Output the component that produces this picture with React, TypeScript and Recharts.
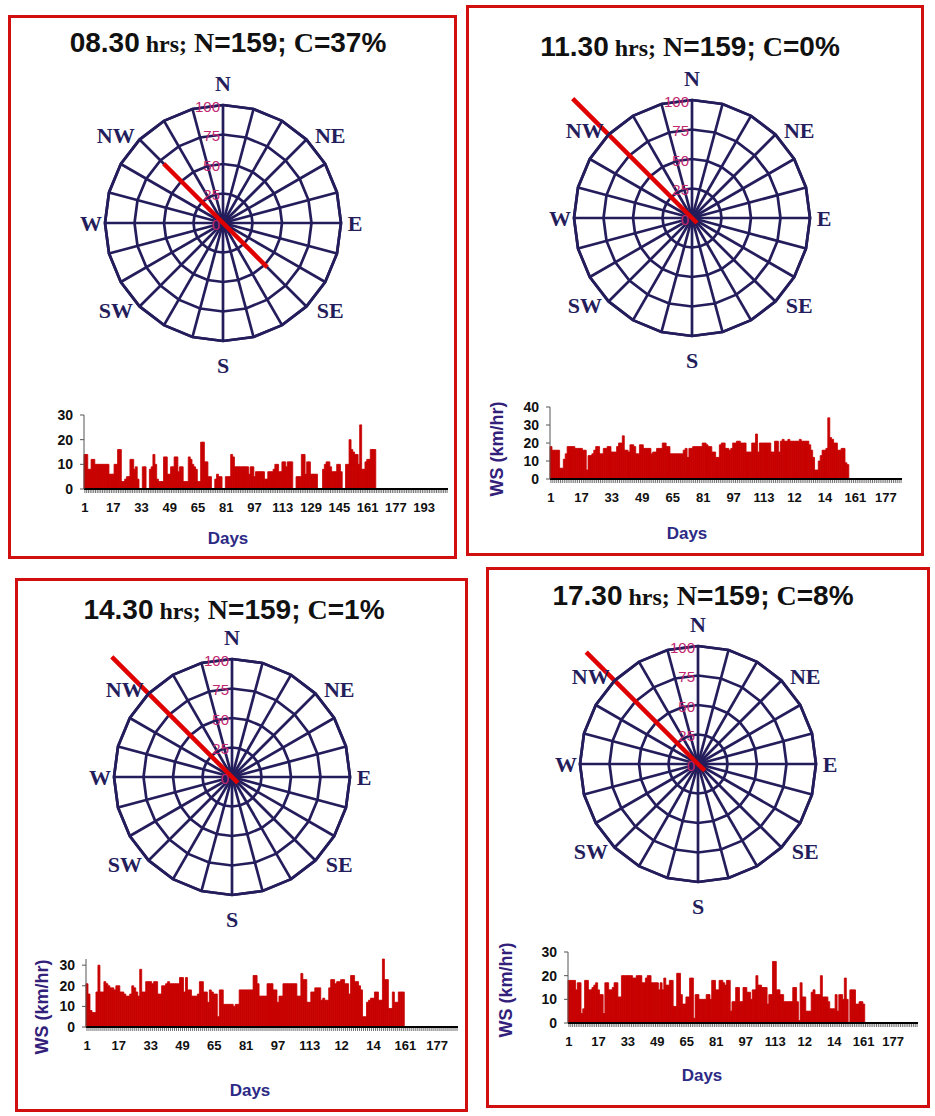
import React from 'react';
import {
  RadarChart,
  Radar,
  PolarGrid,
  PolarAngleAxis,
  PolarRadiusAxis,
  BarChart,
  Bar,
  XAxis,
  YAxis,
} from 'recharts';

// ---- data ----
const hours = ['08.30', '11.30', '14.30', '17.30'];
const sampleSize = [159, 159, 159, 159];
const calmPct = [37, 0, 1, 8];

// 24 direction sectors, 15 degrees apart, clockwise from north
const compassDegrees = [0, 15, 30, 45, 60, 75, 90, 105, 120, 135, 150, 165, 180, 195, 210, 225, 240, 255, 270, 285, 300, 315, 330, 345];
const compassLabels = ['N', 'NE', 'E', 'SE', 'S', 'SW', 'W', 'NW'];

// direction frequency (%) per sector
const dir0830 = [0, 0, 0, 0, 0, 0, 0, 0, 0, 53, 0, 0, 0, 0, 0, 0, 0, 0, 0, 0, 0, 71, 0, 0];
const dir1130 = [0, 0, 0, 0, 0, 0, 0, 0, 0, 6, 0, 0, 0, 0, 0, 0, 0, 0, 0, 0, 0, 143, 0, 0];
const dir1430 = [0, 0, 0, 0, 0, 0, 0, 0, 0, 7, 0, 0, 0, 0, 0, 0, 0, 0, 0, 0, 0, 144, 0, 0];
const dir1730 = [0, 0, 0, 0, 0, 0, 0, 0, 0, 8, 0, 0, 0, 0, 0, 0, 0, 0, 0, 0, 0, 134, 0, 0];

// daily wind speed (km/hr)
const ws0830 = [
  14, 14, 8, 8, 12, 12, 10, 10, 10, 10, 10, 10, 10, 10, 6, 6, 6, 10, 10, 16,
  16, 3, 3, 4, 5, 5, 12, 12, 8, 9, 4, 0, 0, 9, 9, 0, 0, 8, 9, 14,
  10, 4, 3, 3, 3, 13, 13, 6, 6, 9, 9, 13, 13, 7, 9, 9, 3, 3, 3, 13,
  12, 10, 9, 8, 3, 3, 19, 19, 11, 11, 5, 5, 0, 0, 4, 6, 5, 5, 0, 0,
  5, 5, 5, 14, 13, 9, 9, 9, 9, 9, 9, 9, 9, 6, 9, 9, 5, 7, 7, 7,
  7, 7, 4, 4, 7, 7, 7, 8, 10, 10, 7, 7, 11, 11, 9, 11, 11, 11, 0, 0,
  5, 5, 5, 14, 14, 6, 11, 11, 6, 6, 6, 6, 0, 0, 0, 8, 10, 11, 11, 9,
  7, 7, 7, 10, 10, 7, 0, 0, 10, 10, 20, 16, 15, 14, 14, 10, 26, 8, 8, 11,
  12, 12, 16, 16, 16,
];
const ws1130 = [
  18, 16, 16, 16, 16, 6, 6, 11, 14, 18, 18, 18, 18, 17, 17, 17, 17, 16, 16, 5,
  13, 13, 14, 16, 18, 18, 14, 14, 17, 17, 18, 18, 15, 15, 15, 18, 20, 20, 24, 16,
  16, 15, 19, 19, 18, 14, 14, 19, 19, 17, 17, 17, 17, 14, 15, 15, 17, 17, 17, 20,
  20, 18, 18, 14, 14, 14, 14, 14, 14, 14, 16, 17, 12, 17, 17, 18, 18, 18, 18, 18,
  20, 20, 19, 18, 18, 15, 15, 12, 12, 19, 20, 20, 17, 17, 16, 17, 20, 20, 21, 21,
  20, 20, 20, 15, 15, 15, 20, 20, 25, 15, 20, 20, 20, 20, 20, 20, 15, 15, 21, 21,
  15, 21, 22, 21, 21, 22, 21, 21, 21, 21, 21, 22, 21, 21, 21, 21, 19, 16, 12, 5,
  5, 10, 13, 16, 16, 17, 34, 23, 22, 20, 20, 16, 16, 17, 17, 9, 8,
];
const ws1430 = [
  21, 16, 8, 7, 7, 17, 30, 17, 17, 22, 21, 20, 19, 19, 18, 20, 20, 17, 17, 16,
  15, 15, 16, 20, 19, 17, 15, 28, 17, 17, 22, 22, 22, 21, 22, 22, 16, 16, 20, 20,
  21, 22, 21, 21, 21, 21, 21, 24, 24, 17, 24, 18, 18, 15, 15, 15, 16, 22, 22, 17,
  17, 12, 18, 17, 16, 16, 5, 18, 18, 11, 11, 11, 11, 11, 10, 11, 11, 18, 18, 18,
  18, 18, 18, 18, 25, 25, 21, 15, 15, 15, 15, 21, 21, 21, 18, 18, 12, 15, 15, 21,
  21, 21, 21, 21, 21, 21, 15, 15, 26, 23, 23, 12, 12, 17, 17, 19, 19, 19, 13, 14,
  13, 13, 19, 23, 23, 21, 22, 22, 23, 23, 21, 21, 16, 25, 25, 22, 22, 20, 18, 5,
  5, 12, 13, 14, 14, 17, 17, 13, 13, 33, 23, 23, 9, 9, 17, 12, 12, 17, 17, 17,
];
const ws1730 = [
  18, 18, 18, 18, 14, 17, 17, 4, 6, 18, 18, 14, 14, 15, 16, 17, 14, 12, 12, 4,
  17, 17, 14, 14, 15, 17, 17, 11, 11, 20, 20, 20, 20, 20, 20, 19, 19, 20, 20, 20,
  17, 17, 19, 20, 20, 17, 17, 17, 17, 14, 17, 14, 19, 16, 16, 18, 18, 7, 7, 21,
  21, 12, 8, 8, 11, 11, 19, 19, 2, 12, 12, 10, 10, 10, 10, 12, 12, 10, 18, 18,
  14, 14, 18, 18, 17, 16, 18, 18, 5, 9, 9, 15, 15, 9, 9, 15, 15, 13, 13, 10,
  14, 14, 20, 16, 16, 15, 15, 15, 8, 12, 12, 26, 26, 14, 14, 12, 12, 9, 9, 9,
  9, 9, 15, 15, 9, 1, 17, 11, 11, 5, 5, 5, 13, 14, 12, 12, 12, 20, 11, 11,
  11, 9, 6, 6, 6, 12, 5, 12, 12, 10, 19, 10, 0, 14, 14, 14, 8, 8, 9, 9,
  8,
];

// number of day categories on each day axis
const dayAxisLength = [206, 185, 187, 190];

// day-axis tick labels (one every 16 days)
const dayLabels0830 = ['1', '17', '33', '49', '65', '81', '97', '113', '129', '145', '161', '177', '193'];
const dayLabelsLater = ['1', '17', '33', '49', '65', '81', '97', '113', '12', '14', '161', '177'];

const wsTicks30 = [0, 10, 20, 30];
const wsTicks40 = [0, 10, 20, 30, 40];

// ---- styles ----
const SANS = '"Liberation Sans", Arial, Helvetica, sans-serif';
const SERIF = '"Liberation Serif", "Times New Roman", Times, serif';
const NAVY = '#241d5c';
const BAR_RED = '#c80000';
const LINE_RED = '#e10000';
const FRAME_RED = '#d20f0f';
const AXIS_TITLE = '#33207a';
const RADIUS_PINK = '#c2266e';

type Panel = {
  hour: string;
  n: number;
  calm: number;
  freq: number[];
  ws: number[];
  axisLen: number;
  labels: string[];
  yMax: number;
  yTicks: number[];
  box: [number, number, number, number];
  title: [number, number];
  rose: [number, number];
  plot: [number, number, number, number];
  wsLabel: [number, number, number] | null;
  days: [number, number];
};

const panels: Panel[] = [
  {
    hour: hours[0], n: sampleSize[0], calm: calmPct[0], freq: dir0830, ws: ws0830,
    axisLen: dayAxisLength[0], labels: dayLabels0830, yMax: 30, yTicks: wsTicks30,
    box: [8, 15, 457, 559], title: [228, 53], rose: [223, 223],
    plot: [84, 448, 415, 489], wsLabel: null, days: [228, 538],
  },
  {
    hour: hours[1], n: sampleSize[1], calm: calmPct[1], freq: dir1130, ws: ws1130,
    axisLen: dayAxisLength[1], labels: dayLabelsLater, yMax: 40, yTicks: wsTicks40,
    box: [466, 5, 924, 556], title: [690, 57], rose: [692, 218],
    plot: [550, 902, 407, 479], wsLabel: [497, 449, 18], days: [687, 533],
  },
  {
    hour: hours[2], n: sampleSize[2], calm: calmPct[2], freq: dir1430, ws: ws1430,
    axisLen: dayAxisLength[2], labels: dayLabelsLater, yMax: 30, yTicks: wsTicks30,
    box: [15, 578, 468, 1112], title: [234, 620], rose: [232, 777],
    plot: [86, 458, 959, 1027], wsLabel: [42, 1007, 18], days: [250, 1090],
  },
  {
    hour: hours[3], n: sampleSize[3], calm: calmPct[3], freq: dir1730, ws: ws1730,
    axisLen: dayAxisLength[3], labels: dayLabelsLater, yMax: 30, yTicks: wsTicks30,
    box: [486, 567, 930, 1108], title: [703, 606], rose: [698, 764],
    plot: [568, 918, 952, 1023], wsLabel: [506, 990, 18], days: [702, 1075],
  },
];

// ---- wind rose ----
function WindRose({ freq, cx, cy }: { freq: number[]; cx: number; cy: number }) {
  const size = 380;
  const c = size / 2;
  const data = compassDegrees.map((d, i) => ({ dir: d, f: freq[i] }));

  const angleTick = (props: any) => {
    const value = props?.payload?.value;
    const idx = compassDegrees.indexOf(value);
    if (idx < 0 || idx % 3 !== 0) return <g />;
    const a = (value * Math.PI) / 180;
    const s = Math.sin(a);
    const co = Math.cos(a);
    const x = c + 132 * Math.sign(s) * Math.pow(Math.abs(s), 0.6);
    const y = c - 142 * Math.sign(co) * Math.pow(Math.abs(co), 1.4) + (idx === 0 ? 2 : 0);
    return (
      <text
        x={x}
        y={y}
        textAnchor="middle"
        dominantBaseline="central"
        fontFamily={SERIF}
        fontWeight="bold"
        fontSize={22}
        fill={NAVY}
      >
        {compassLabels[idx / 3]}
      </text>
    );
  };

  const radiusTick = (props: any) => {
    const { x, y, payload } = props;
    return (
      <text
        x={x - 3}
        y={y + 1}
        textAnchor="end"
        dominantBaseline="central"
        fontFamily={SANS}
        fontSize={15}
        fill={RADIUS_PINK}
      >
        {payload.value}
      </text>
    );
  };

  return (
    <div style={{ position: 'absolute', left: cx - c, top: cy - c, width: size, height: size }}>
      <RadarChart
        width={size}
        height={size}
        cx={c}
        cy={c}
        outerRadius={118}
        data={data}
        margin={{ top: 0, right: 0, bottom: 0, left: 0 }}
      >
        <PolarGrid gridType="polygon" stroke={NAVY} strokeWidth={2.7} />
        <PolarAngleAxis
          dataKey="dir"
          tick={angleTick}
          tickLine={false}
          axisLine={{ stroke: NAVY, strokeWidth: 2.7 }}
        />
        <PolarRadiusAxis
          angle={90}
          orientation="left"
          domain={[0, 100]}
          allowDataOverflow
          tickCount={5}
          axisLine={false}
          tickLine={false}
          tick={radiusTick}
        />
        <Radar
          dataKey="f"
          stroke={LINE_RED}
          strokeWidth={4.5}
          fill="none"
          fillOpacity={0}
          dot={false}
          isAnimationActive={false}
        />
      </RadarChart>
    </div>
  );
}

// ---- daily wind speed bars ----
function SpeedBars({ p }: { p: Panel }) {
  const [pl, pr, pt, zy] = p.plot;
  const yAxisW = 60;
  const top = 10;
  const right = 4;
  const xAxisH = 30;
  const width = yAxisW + (pr - pl) + right;
  const height = top + (zy - pt) + xAxisH;
  const data = Array.from({ length: p.axisLen }, (_, i) => ({
    day: i + 1,
    ws: i < p.ws.length ? p.ws[i] : null,
  }));

  const xTick = (props: any) => {
    const { x, y, payload } = props;
    const idx = payload.value - 1;
    const label = idx % 16 === 0 ? p.labels[idx / 16] : undefined;
    return (
      <g>
        <line x1={x} x2={x} y1={y + 1} y2={y + 4} stroke="#333" strokeWidth={0.7} />
        {label !== undefined && (
          <text
            x={x}
            y={y + 23}
            textAnchor="middle"
            fontFamily={SANS}
            fontWeight="bold"
            fontSize={13}
            fill="#111"
          >
            {label}
          </text>
        )}
      </g>
    );
  };

  const yTick = (props: any) => {
    const { x, y, payload } = props;
    return (
      <g>
        <line x1={x - 4} x2={x} y1={y} y2={y} stroke="#555" strokeWidth={1} />
        <text
          x={x - 11}
          y={y}
          textAnchor="end"
          dominantBaseline="central"
          fontFamily={SANS}
          fontWeight="bold"
          fontSize={14}
          fill="#111"
        >
          {payload.value}
        </text>
      </g>
    );
  };

  return (
    <div style={{ position: 'absolute', left: pl - yAxisW, top: pt - top, width, height }}>
      <BarChart
        width={width}
        height={height}
        data={data}
        margin={{ top, right, bottom: 0, left: 0 }}
        barCategoryGap={0}
        barGap={0}
      >
        <XAxis
          dataKey="day"
          interval={0}
          tickLine={false}
          tickSize={0}
          tickMargin={0}
          height={xAxisH}
          axisLine={{ stroke: '#000', strokeWidth: 2 }}
          tick={xTick}
        />
        <YAxis
          width={yAxisW}
          domain={[0, p.yMax]}
          ticks={p.yTicks}
          interval={0}
          tickLine={false}
          tickSize={0}
          tickMargin={0}
          axisLine={{ stroke: '#555', strokeWidth: 1 }}
          tick={yTick}
        />
        <Bar
          dataKey="ws"
          fill={BAR_RED}
          stroke={BAR_RED}
          strokeWidth={0.8}
          isAnimationActive={false}
        />
      </BarChart>
    </div>
  );
}

function Title({ p }: { p: Panel }) {
  const [cx, baseline] = p.title;
  const sans = { fontFamily: SANS, fontWeight: 'bold' as const, fontSize: 28 };
  const serif = { fontFamily: SERIF, fontWeight: 'bold' as const, fontSize: 28 };
  return (
    <div
      style={{
        position: 'absolute',
        left: cx - 250,
        width: 500,
        top: baseline - 24,
        height: 28,
        lineHeight: '28px',
        fontSize: 28,
        fontFamily: SANS,
        textAlign: 'center',
        whiteSpace: 'nowrap',
        color: '#111',
      }}
    >
      <span style={sans}>{p.hour}</span>
      <span style={{ ...serif, fontSize: 24 }}>{' hrs;'}</span>
      <span style={serif}>{' N'}</span>
      <span style={sans}>{`=${p.n};`}</span>
      <span style={serif}>{' C'}</span>
      <span style={sans}>{`=${p.calm}%`}</span>
    </div>
  );
}

function PanelView({ p }: { p: Panel }) {
  const [x1, y1, x2, y2] = p.box;
  const [dx, dy] = p.days;
  return (
    <>
      <div
        style={{
          position: 'absolute',
          left: x1,
          top: y1,
          width: x2 - x1,
          height: y2 - y1,
          border: `3px solid ${FRAME_RED}`,
          boxSizing: 'border-box',
        }}
      />
      <Title p={p} />
      <WindRose freq={p.freq} cx={p.rose[0]} cy={p.rose[1]} />
      <SpeedBars p={p} />
      {p.wsLabel && (
        <div
          style={{
            position: 'absolute',
            left: p.wsLabel[0],
            top: p.wsLabel[1],
            transform: 'translate(-50%, -50%) rotate(-90deg)',
            whiteSpace: 'nowrap',
            fontFamily: SANS,
            fontWeight: 'bold',
            fontSize: p.wsLabel[2],
            color: AXIS_TITLE,
            lineHeight: 1,
          }}
        >
          WS (km/hr)
        </div>
      )}
      <div
        style={{
          position: 'absolute',
          left: dx,
          top: dy,
          transform: 'translate(-50%, -50%)',
          whiteSpace: 'nowrap',
          fontFamily: SANS,
          fontWeight: 'bold',
          fontSize: 17,
          color: '#2d2a85',
          lineHeight: 1,
        }}
      >
        Days
      </div>
    </>
  );
}

export default function App() {
  return (
    <div
      style={{
        position: 'absolute',
        left: 0,
        top: 0,
        width: 935,
        height: 1116,
        background: '#fff',
        overflow: 'hidden',
      }}
    >
      {panels.map((p) => (
        <PanelView key={p.hour} p={p} />
      ))}
    </div>
  );
}
